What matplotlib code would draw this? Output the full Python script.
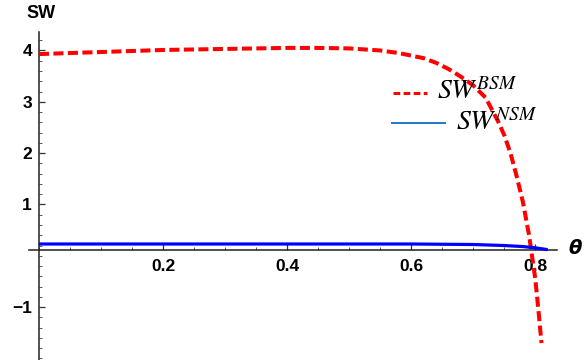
import matplotlib
matplotlib.use("Agg")
import matplotlib.pyplot as plt
from matplotlib.lines import Line2D
from matplotlib.ticker import FixedLocator, MultipleLocator, FixedFormatter

# Social welfare under the two schemes as a function of theta
theta_bsm = [0.0, 0.05, 0.10, 0.15, 0.20, 0.25, 0.30, 0.35, 0.40, 0.45, 0.50,
             0.55, 0.58, 0.60, 0.62, 0.64, 0.66, 0.68, 0.70, 0.72, 0.74, 0.75,
             0.76, 0.77, 0.78, 0.79, 0.80, 0.805, 0.81]
sw_bsm = [3.93, 3.95, 3.97, 3.99, 4.01, 4.02, 4.03, 4.04, 4.05, 4.05, 4.04,
          4.00, 3.95, 3.90, 3.85, 3.76, 3.64, 3.49, 3.32, 3.08, 2.62, 2.35,
          2.00, 1.55, 1.05, 0.40, -0.45, -1.05, -1.70]

theta_nsm = [0.0, 0.1, 0.2, 0.3, 0.4, 0.5, 0.6, 0.65, 0.70, 0.75, 0.78, 0.80, 0.82]
sw_nsm = [0.23, 0.23, 0.23, 0.23, 0.23, 0.23, 0.23, 0.225, 0.22, 0.20, 0.18, 0.155, 0.12]

x_ticks = [0.2, 0.4, 0.6, 0.8]
x_tick_labels = ["0.2", "0.4", "0.6", "0.8"]
y_ticks = [-1, 1, 2, 3, 4]
y_tick_labels = ["\u22121", "1", "2", "3", "4"]

W, H = 588, 360
fig = plt.figure(figsize=(W / 100, H / 100), dpi=100)

# axes box in pixels: x from 29 to 557, y from 32 (top) to 360 (bottom)
ax = fig.add_axes([29 / W, 0.0, 528 / W, 328 / H])
ax.set_xlim(-0.016, 0.835)
ax.set_ylim(-2.03, 4.36)

ax.plot(theta_bsm, sw_bsm, color="#ff0000", lw=2.9, dashes=(2.5, 1.1),
        dash_capstyle="butt", zorder=3)
ax.plot(theta_nsm, sw_nsm, color="#0000ff", lw=2.3, zorder=3,
        solid_capstyle="butt")

# axes crossing style
for s in ("top", "right"):
    ax.spines[s].set_visible(False)
ax.spines["left"].set_position(("data", 0.0))
ax.spines["bottom"].set_position(("data", 0.12))
for s in ("left", "bottom"):
    ax.spines[s].set_linewidth(1.1)
    ax.spines[s].set_color("#222222")

ax.xaxis.set_major_locator(FixedLocator(x_ticks))
ax.xaxis.set_major_formatter(FixedFormatter(x_tick_labels))
ax.xaxis.set_minor_locator(MultipleLocator(0.05))
ax.yaxis.set_major_locator(FixedLocator(y_ticks))
ax.yaxis.set_major_formatter(FixedFormatter(y_tick_labels))
ax.yaxis.set_minor_locator(MultipleLocator(0.2))

ax.tick_params(which="major", direction="in", length=4, width=0.9, color="#333333")
ax.tick_params(which="minor", direction="in", length=2.3, width=0.7, color="#555555")
ax.tick_params(axis="x", which="major", pad=7, labelsize=12.5)
ax.tick_params(axis="y", which="major", pad=5, labelsize=12.5)
for lab in ax.get_xticklabels() + ax.get_yticklabels():
    lab.set_fontweight("bold")
    lab.set_fontfamily("Liberation Sans")

fig.text(26 / W, 1 - 13 / H, "SW", fontsize=13, fontweight="bold",
         family="Liberation Sans", ha="left", va="center")
fig.text(568 / W, 1 - 249 / H, r"$\boldsymbol{\theta}$", fontsize=14, ha="left",
         va="center", math_fontfamily="dejavusans")

# legend
fig.add_artist(Line2D([393 / W, 427 / W], [1 - 93 / H, 1 - 93 / H],
                      color="#ff0000", lw=2.2, dashes=(2.2, 1.1),
                      dash_capstyle="butt"))
fig.add_artist(Line2D([392 / W, 445 / W], [1 - 123 / H, 1 - 123 / H],
                      color="#1f78c8", lw=1.4))
fig.text(437 / W, 1 - 99 / H, r"$SW^{BSM}$", fontsize=20, ha="left",
         va="baseline", math_fontfamily="stix")
fig.text(456 / W, 1 - 130 / H, r"$SW^{NSM}$", fontsize=20, ha="left",
         va="baseline", math_fontfamily="stix")

fig.savefig("out.png", dpi=100)
